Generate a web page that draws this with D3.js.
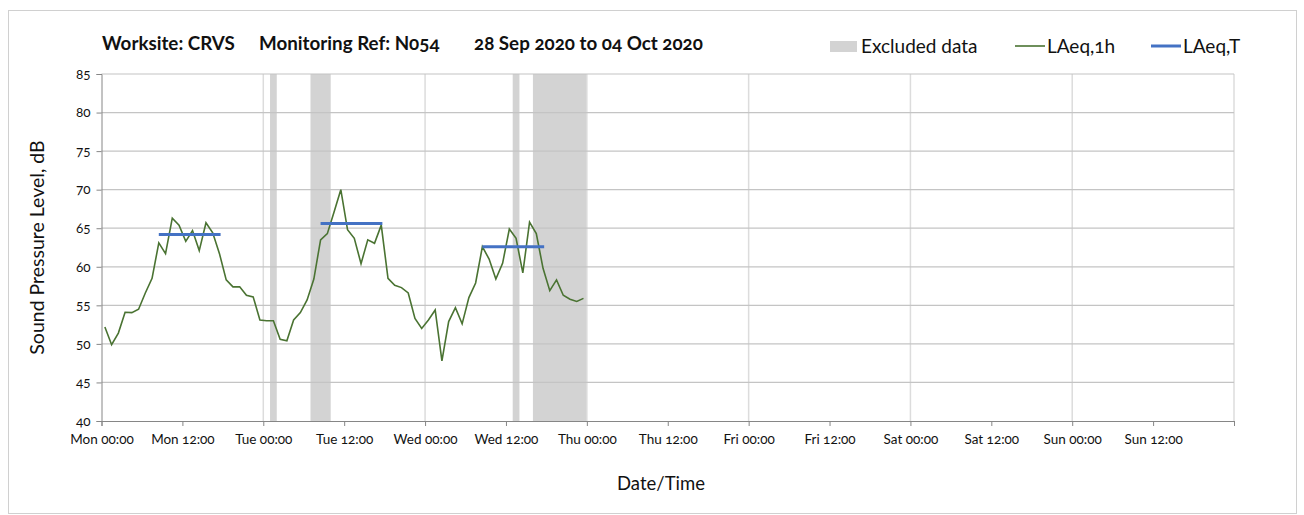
<!DOCTYPE html>
<html>
<head>
	<meta charset="utf-8">
	<script src="https://cdn.jsdelivr.net/npm/d3@7"></script>
	<style>
		body { margin: 0; background: #fff; }
		text { font-family: Lato, "Open Sans", sans-serif; fill: #111; font-variant-numeric: oldstyle-nums; }
		.tick text { font-size: 13.5px; }
		.domain { stroke: #868686; }
		.tick line { stroke: #868686; }
	</style>
</head>
<body>
	<svg id="chart" width="1304" height="515"></svg>

	<script type="text/javascript">
		// hourly LAeq,1h readings, first one at Mon 00:30
		var startTime = "2020-09-28T00:30:00Z";
		var laeq1h = [52.2, 49.9, 51.4, 54.1, 54.05, 54.5, 56.6, 58.5, 63.1, 61.7, 66.3, 65.4,
			63.3, 64.7, 62.1, 65.7, 64.4, 61.7, 58.3, 57.4, 57.4, 56.3, 56.1, 53.1,
			53.0, 53.0, 50.6, 50.4, 53.1, 54.05, 55.7, 58.4, 63.5, 64.3, 67.1, 70.0,
			64.8, 63.7, 60.4, 63.5, 63.05, 65.4, 58.5, 57.6, 57.3, 56.6, 53.3, 52.0,
			53.1, 54.4, 47.8, 52.9, 54.7, 52.6, 56.0, 57.9, 62.6, 61.0, 58.4, 60.45,
			64.9, 63.7, 59.2, 65.8, 64.3, 59.8, 56.9, 58.3, 56.3, 55.8, 55.5, 55.9];

		// LAeq,T daytime periods
		var periodStart = ["2020-09-28T08:30:00Z", "2020-09-29T08:30:00Z", "2020-09-30T08:30:00Z"];
		var periodEnd = ["2020-09-28T17:40:00Z", "2020-09-29T17:40:00Z", "2020-09-30T17:40:00Z"];
		var laeqT = [64.2, 65.6, 62.6];

		// excluded data periods
		var exclStart = ["2020-09-29T01:00:00Z", "2020-09-29T07:00:00Z", "2020-09-30T13:00:00Z", "2020-09-30T16:00:00Z"];
		var exclEnd = ["2020-09-29T02:00:00Z", "2020-09-29T10:00:00Z", "2020-09-30T14:00:00Z", "2020-10-01T00:00:00Z"];

		var yTicks = [40, 45, 50, 55, 60, 65, 70, 75, 80, 85];
		var dayNames = ["Sun", "Mon", "Tue", "Wed", "Thu", "Fri", "Sat"];

		var svg = d3.select("#chart");
		var plotLeft = 101.5, plotRight = 1234, plotTop = 74, plotBottom = 421;

		var x = d3.scaleUtc()
			.domain([new Date("2020-09-28T00:00:00Z"), new Date("2020-10-05T00:00:00Z")])
			.range([plotLeft, plotRight]);
		var y = d3.scaleLinear().domain([40, 85]).range([plotBottom, plotTop]);

		// outer frame
		svg.append("rect")
			.attr("x", 8.5).attr("y", 10.5)
			.attr("width", 1288).attr("height", 503)
			.attr("fill", "none").attr("stroke", "#d0d0d0");

		// excluded bands
		svg.selectAll("rect.excl")
			.data(exclStart)
			.enter()
			.append("rect")
			.attr("class", "excl")
			.attr("x", function(d) { return x(new Date(d)); })
			.attr("width", function(d, i) { return x(new Date(exclEnd[i])) - x(new Date(d)); })
			.attr("y", plotTop)
			.attr("height", plotBottom - plotTop)
			.attr("fill", "#d3d3d3");

		// vertical day gridlines
		var days = d3.utcDay.range(new Date("2020-09-29T00:00:00Z"), new Date("2020-10-06T00:00:00Z"));
		svg.selectAll("line.vgrid")
			.data(days)
			.enter()
			.append("line")
			.attr("class", "vgrid")
			.attr("x1", function(d) { return x(d); })
			.attr("x2", function(d) { return x(d); })
			.attr("y1", plotTop).attr("y2", plotBottom)
			.attr("stroke", "#dcdcdc").attr("stroke-width", 1.5);

		// horizontal gridlines
		svg.selectAll("line.hgrid")
			.data(yTicks.slice(1))
			.enter()
			.append("line")
			.attr("class", "hgrid")
			.attr("x1", plotLeft).attr("x2", plotRight)
			.attr("y1", function(d) { return y(d); })
			.attr("y2", function(d) { return y(d); })
			.attr("stroke", "#c4c4c4").attr("stroke-width", 1.2);

		// axes
		var xTicks = d3.utcHour.every(12).range(x.domain()[0], new Date("2020-10-05T00:00:01Z"));
		svg.append("g")
			.attr("transform", "translate(0," + plotBottom + ")")
			.call(d3.axisBottom(x)
				.tickValues(xTicks)
				.tickSize(5)
				.tickPadding(8)
				.tickFormat(function(d, i) {
					if (i == xTicks.length - 1) return "";
					return dayNames[d.getUTCDay()] + " " + d3.utcFormat("%H:%M")(d);
				}));

		svg.append("g")
			.attr("transform", "translate(" + plotLeft + ",0)")
			.call(d3.axisLeft(y).tickValues(yTicks).tickSize(5).tickPadding(6));

		// LAeq,1h line
		var t0 = new Date(startTime).getTime();
		var line = d3.line()
			.x(function(d, i) { return x(new Date(t0 + i * 3600000)); })
			.y(function(d) { return y(d); });
		svg.append("path")
			.datum(laeq1h)
			.attr("d", line)
			.attr("fill", "none")
			.attr("stroke", "#4a7332")
			.attr("stroke-width", 1.6);

		// LAeq,T lines
		svg.selectAll("line.laeqT")
			.data(laeqT)
			.enter()
			.append("line")
			.attr("class", "laeqT")
			.attr("x1", function(d, i) { return x(new Date(periodStart[i])); })
			.attr("x2", function(d, i) { return x(new Date(periodEnd[i])); })
			.attr("y1", function(d) { return y(d); })
			.attr("y2", function(d) { return y(d); })
			.attr("stroke", "#4472c4")
			.attr("stroke-width", 3);

		// axis titles
		svg.append("text")
			.attr("transform", "translate(44," + (plotTop + plotBottom) / 2 + ") rotate(-90)")
			.attr("text-anchor", "middle")
			.style("font-size", "19.5px")
			.text("Sound Pressure Level, dB");

		svg.append("text")
			.attr("x", 661).attr("y", 490)
			.attr("text-anchor", "middle")
			.style("font-size", "18.5px")
			.text("Date/Time");

		// title
		var titleParts = ["Worksite: CRVS", "Monitoring Ref: N054", "28 Sep 2020 to 04 Oct 2020"];
		var titleX = [102, 259, 474];
		svg.selectAll("text.title")
			.data(titleParts)
			.enter()
			.append("text")
			.attr("class", "title")
			.attr("x", function(d, i) { return titleX[i]; })
			.attr("y", 50)
			.style("font-size", "18.8px")
			.style("font-weight", "bold")
			.text(function(d) { return d; });

		// legend
		var lg = svg.append("g").attr("transform", "translate(0,46)");
		lg.append("rect").attr("x", 830).attr("y", -5).attr("width", 27).attr("height", 11).attr("fill", "#d3d3d3");
		lg.append("text").attr("x", 861).attr("y", 6.5).style("font-size", "19px").text("Excluded data");
		lg.append("line").attr("x1", 1015).attr("x2", 1045).attr("y1", 0).attr("y2", 0)
			.attr("stroke", "#4a7332").attr("stroke-width", 1.6);
		lg.append("text").attr("x", 1047).attr("y", 6.5).style("font-size", "19px").text("LAeq,1h");
		lg.append("line").attr("x1", 1151).attr("x2", 1181).attr("y1", 0).attr("y2", 0)
			.attr("stroke", "#4472c4").attr("stroke-width", 3);
		lg.append("text").attr("x", 1183).attr("y", 6.5).style("font-size", "19px").text("LAeq,T");
	</script>
</body>
</html>
